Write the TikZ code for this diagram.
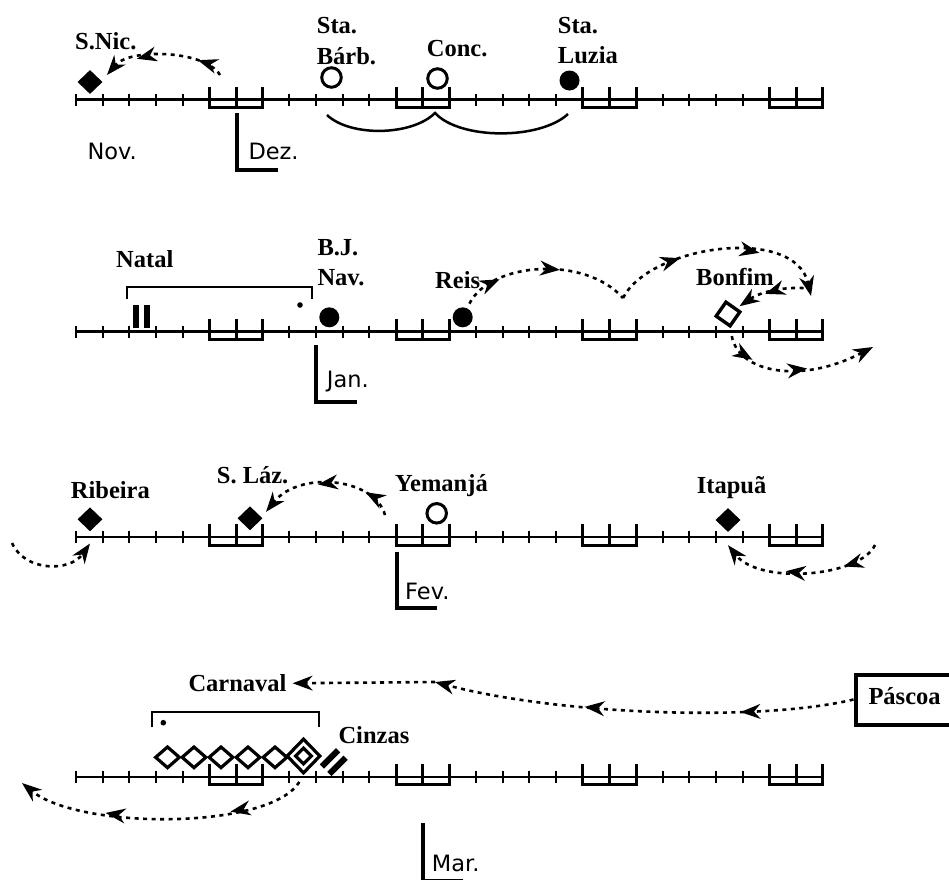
\documentclass[tikz,border=0pt]{standalone}
\usepackage{fontspec}
\setmainfont{Liberation Serif}
\newfontfamily\monthfont{DejaVu Sans}
\usetikzlibrary{arrows.meta,shapes.geometric,decorations.markings}

\tikzset{
  flow/.style={line width=2.6pt, dash pattern=on 4pt off 4.5pt},
  endtip/.style={-{Stealth[length=20pt,width=15pt,inset=6.5pt,line width=1.4pt]}},
  tipat/.style={postaction={decorate,decoration={markings,mark=at position #1 with {\arrow{Stealth[length=20pt,width=15pt,inset=6.5pt,line width=1.4pt]}}}}},
  axisline/.style={line width=2.4pt},
  daytick/.style={line width=1.8pt},
  wkend/.style={line width=3pt},
  monthbar/.style={line width=4pt},
  concarc/.style={line width=2.5pt},
  brk/.style={line width=2pt},
  lab/.style={font=\fontsize{24.5}{28}\selectfont\bfseries, inner sep=0pt, anchor=base west},
  monthlab/.style={font=\monthfont\fontsize{22.5}{26}\selectfont, inner sep=0pt, anchor=base west},
  fdot/.style={circle, fill, inner sep=0pt, minimum size=20pt},
  odot/.style={circle, draw, line width=3pt, inner sep=0pt, minimum size=19.5pt},
  fdiam/.style={diamond, fill, inner sep=0pt, minimum width=25pt, minimum height=24pt},
  odiam/.style={diamond, draw, line width=3.2pt, inner sep=0pt, minimum width=25pt, minimum height=22pt},
  osq/.style={rectangle, draw, line width=3.4pt, inner sep=0pt, minimum size=17pt},
  stroke/.style={rectangle, fill, inner sep=0pt, minimum width=6pt, minimum height=23pt},
  pbox/.style={draw, line width=4pt, anchor=west, font=\fontsize{24.5}{28}\selectfont\bfseries,
    inner xsep=13pt, inner ysep=0pt, minimum height=50pt, text height=16pt, text depth=6pt}
}

\begin{document}
\begin{tikzpicture}[x=1pt, y=-1pt]
\fill[white] (0,0) rectangle (949,879);
\useasboundingbox (0,0) rectangle (949,879);

% four four-week timelines with weekend brackets
\foreach \yy in {99.5,331.5,537,776.7} {
  \draw[axisline] (76,\yy) -- (822.67,\yy);
  \foreach \i in {0,1,2,3,4,8,9,10,11,15,16,17,18,22,23,24,25}
    \draw[daytick] ({76+26.667*\i},{\yy-6}) -- ({76+26.667*\i},{\yy+6});
  \foreach \w in {0,1,2,3} {
    \draw[wkend] ({76+26.667*(7*\w+5)},{\yy-13}) -- ({76+26.667*(7*\w+5)},{\yy+8})
      -- ({76+26.667*(7*\w+7)},{\yy+8}) -- ({76+26.667*(7*\w+7)},{\yy-13});
    \draw[wkend] ({76+26.667*(7*\w+6)},{\yy-13}) -- ({76+26.667*(7*\w+6)},{\yy+8});
  }
}

% month starts
\draw[monthbar] (236.7,113) -- (236.7,170) -- (278.3,170);
\draw[monthbar] (316,345) -- (316,402.3) -- (356.7,402.3);
\draw[monthbar] (396.7,551.7) -- (396.7,608.3) -- (436.7,608.3);
\draw[monthbar] (422.7,823.3) -- (422.7,880.5) -- (463,880.5);
\node[monthlab] (nov) at (87.3,159.3) {Nov.};
\node[monthlab] (dez) at (248.3,159.3) {Dez.};
\node[monthlab] (jan) at (326.7,387) {Jan.};
\node[monthlab] (fev) at (405,599) {Fev.};
\node[monthlab] (mar) at (431.7,871.7) {Mar.};

% ---- November / December
\node[fdiam] (snic) at (90,82) {};
\node[lab] (lsnic) at (75,49.5) {S.Nic.};
\node[odot] (sbarb) at (331.5,77.5) {};
\node[lab] (lbarb1) at (316.7,33) {Sta.};
\node[lab] (lbarb2) at (316.7,64) {Bárb.};
\node[odot] (conc) at (437.5,78.5) {};
\node[lab] (lconc) at (426.7,56.7) {Conc.};
\node[fdot] (sluzia) at (569.5,80.5) {};
\node[lab] (lluzia1) at (557.7,33.3) {Sta.};
\node[lab] (lluzia2) at (557.7,63.3) {Luzia};
\draw[concarc] (327,115) .. controls (350,137) and (412,136) .. (435,113)
  .. controls (460,140) and (540,140) .. (568,114);
\coordinate (snic-src) at (220,75);
\draw[flow, endtip, tipat=0.22, tipat=0.72] (snic-src) .. controls (205,50) and (130,48) .. ([xshift=17pt,yshift=7pt]snic.center);

% ---- December / January
\node[lab] (lnatal) at (116,267.7) {Natal};
\draw[brk] (127,299.3) -- (127,286.7) -- (312,286.7) -- (312,299.3);
\fill (300,305) circle (2.8);
\node[stroke] (natal-i) at (135.8,316.5) {};
\node[stroke] (natal-ii) at (147.2,316.5) {};
\node[fdot] (bjnav) at (329.3,317.3) {};
\node[lab] (lbj1) at (317.3,255) {B.J.};
\node[lab] (lbj2) at (317.3,285) {Nav.};
\node[fdot] (reis) at (462.7,317.3) {};
\node[lab] (lreis) at (435,288.3) {Reis};
\node[osq, rotate=-35] (bonfim) at (728,314) {};
\node[lab] (lbonfim) at (696,285) {Bonfim};
\coordinate (w1) at (623,298);
\coordinate (w2) at (811,296);
\coordinate (w3) at (812,289);
\coordinate (w4) at (873,347);
\draw[flow, tipat=0.25, tipat=0.6, shorten <=5pt] (reis) .. controls (490,262) and (585,255) .. (w1);
\draw[flow, endtip, tipat=0.32, tipat=0.68] (w1) .. controls (650,245) and (795,225) .. (w2);
\draw[flow, endtip, tipat=0.6, shorten >=3pt] (w3) .. controls (795,286) and (765,289) .. (bonfim);
\draw[flow, endtip, tipat=0.24, tipat=0.58, shorten <=8pt] (bonfim) .. controls (738,372) and (800,385) .. (w4);

% ---- January / February
\node[fdiam] (ribeira) at (90,519.3) {};
\node[lab] (lribeira) at (70.7,498.3) {Ribeira};
\node[fdiam] (slaz) at (250,518.3) {};
\node[lab] (lslaz) at (216.7,483.3) {S. Láz.};
\node[odot] (yemanja) at (436.7,513.3) {};
\node[lab] (lyemanja) at (395,491) {Yemanjá};
\node[fdiam] (itapua) at (728,520) {};
\node[lab] (litapua) at (696.7,493.3) {Itapuã};
\coordinate (rib-src) at (12,543);
\coordinate (yem-src) at (385,515);
\coordinate (ita-src) at (875,545);
\draw[flow, endtip] (rib-src) .. controls (25,572) and (70,572) .. ([yshift=-12pt]ribeira.south);
\draw[flow, endtip, tipat=0.22, tipat=0.57] (yem-src) .. controls (375,478) and (300,470) .. ([xshift=16pt,yshift=6.5pt]slaz.center);
\draw[flow, endtip, tipat=0.24, tipat=0.6] (ita-src) .. controls (860,577) and (760,585) .. ([yshift=-13pt]itapua.south);

% ---- February / March
\node[lab] (carnaval) at (188.3,691.7) {Carnaval};
\draw[brk] (151.7,727.3) -- (151.7,711.7) -- (319.3,711.7) -- (319.3,727.3);
\fill (163.3,722.7) circle (2.8);
\node[odiam] (carn1) at (167.5,757.3) {};
\node[odiam] (carn2) at (194,757.3) {};
\node[odiam] (carn3) at (221,757.3) {};
\node[odiam] (carn4) at (248,757.3) {};
\node[odiam] (carn5) at (275,757.3) {};
\node[diamond, draw, line width=3.2pt, inner sep=0pt, minimum width=34pt, minimum height=35pt] (carn6) at (303.5,756) {};
\node[diamond, draw, line width=3.2pt, inner sep=0pt, minimum width=17pt, minimum height=17pt] (carn6in) at (303.5,756) {};
\node[stroke, rotate=-45] (cinzas-i) at (330,758.3) {};
\node[stroke, rotate=-45] (cinzas-ii) at (337.5,765.8) {};
\node[lab] (lcinzas) at (338.3,743.3) {Cinzas};
\node[pbox] (pascoa) at (853.5,699.5) {Páscoa};
\coordinate (pk) at (435,682);
\coordinate (ash-dst) at (22,783);
\draw[flow, endtip, tipat=0.27, tipat=0.64] (pascoa.west) .. controls (760,722) and (560,715) .. (pk);
\draw[flow, endtip, shorten >=6pt] (pk) -- (carnaval.east);
\draw[flow, endtip, tipat=0.28, tipat=0.7, shorten <=8pt] (carn6.south) .. controls (270,830) and (80,830) .. (ash-dst);
\end{tikzpicture}
\end{document}
